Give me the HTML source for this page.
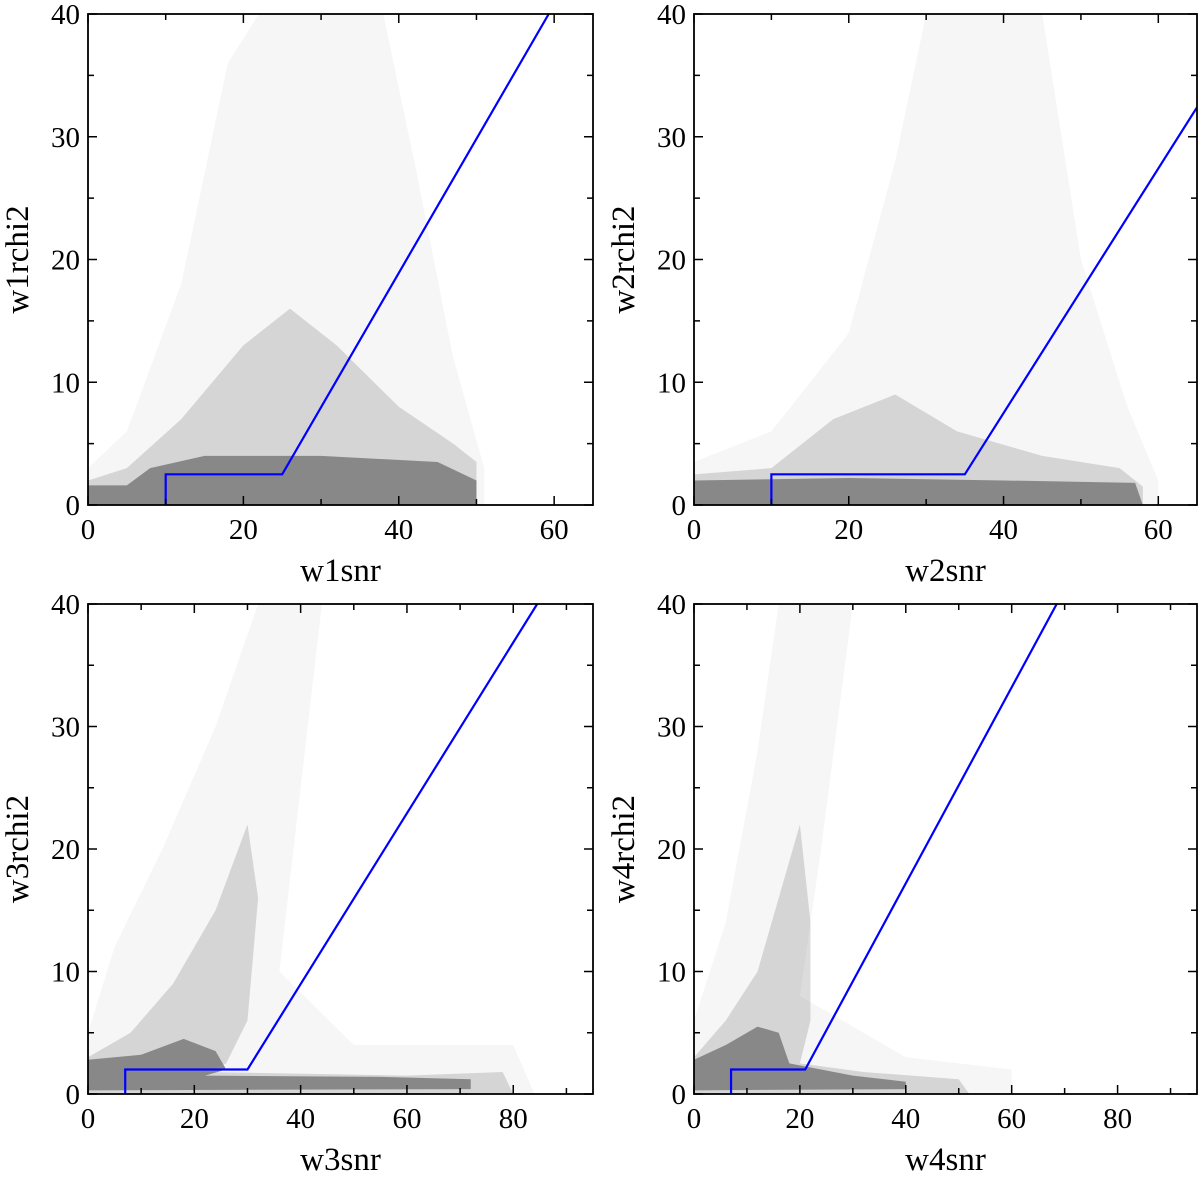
<!DOCTYPE html>
<html><head><meta charset="utf-8"><style>
html,body{margin:0;padding:0;background:#fff;}
svg text{font-family:"Liberation Serif",serif;fill:#000;}
</style></head><body>
<svg id="fig" width="1200" height="1180" viewBox="0 0 1200 1180"></svg>
<script>
// Panel axis settings
const panelNames=["w1","w2","w3","w4"];
const xMaxes=[65,65,95,95];
const xTickLabels=[[0,20,40,60],[0,20,40,60],[0,20,40,60,80],[0,20,40,60,80]];
const yTickLabels=[0,10,20,30,40];
// Blue cut lines [snr, rchi2]
const cutW1=[[10,0],[10,2.5],[25,2.5],[59.3,40]];
const cutW2=[[10,0],[10,2.5],[35,2.5],[65,32.4]];
const cutW3=[[7,0],[7,2],[30,2],[84.5,40]];
const cutW4=[[7,0],[7,2],[21,2],[68.5,40]];
const cuts=[cutW1,cutW2,cutW3,cutW4];
// Point-cloud density envelopes [snr, rchi2] (diffuse, medium, core)
const diffuseW1=[[0,0],[0,3],[5,6],[12,18],[18,36],[22,40],[38,40],[42,28],[47,12],[51,3],[51,0]];
const mediumW1=[[0,0],[0,2],[5,3],[12,7],[20,13],[26,16],[32,13],[40,8],[47,5],[50,3.5],[50,0]];
const coreW1=[[0,0],[0,1.6],[5,1.6],[8,3],[15,4],[30,4],[45,3.5],[50,2],[50,0]];
const diffuseW2=[[0,0],[0,3.5],[10,6],[20,14],[26,28],[30,40],[45,40],[50,20],[56,8],[60,2],[60,0]];
const mediumW2=[[0,0],[0,2.5],[10,3],[18,7],[26,9],[34,6],[45,4],[55,3],[58,1.5],[58,0]];
const coreW2=[[0,0],[0,2],[20,2.2],[40,2],[57,1.8],[58,0]];
const diffuseW3=[[0,0],[0,5],[5,12],[14,20],[24,30],[32,40],[44,40],[40,25],[36,10],[50,4],[80,4],[84,0]];
const mediumW3=[[0,0],[0,3],[8,5],[16,9],[24,15],[30,22],[32,16],[30,6],[26,2.5],[22,1.8],[60,1.5],[78,1.8],[80,0]];
const coreW3=[[0,0],[0,2.8],[10,3.2],[18,4.5],[24,3.5],[26,2],[22,1.5],[55,1.4],[72,1.2],[72,0.4],[0,0.3]];
const diffuseW4=[[0,0],[0,6],[6,14],[12,28],[16,40],[30,40],[24,20],[20,8],[40,3],[60,2],[60,0]];
const mediumW4=[[0,0],[0,3],[6,6],[12,10],[16,16],[20,22],[22,14],[22,6],[20,2.5],[32,1.8],[50,1.2],[52,0]];
const coreW4=[[0,0],[0,2.8],[6,4],[12,5.5],[16,5],[18,2.5],[30,1.5],[40,1],[40,0.4],[0,0.3]];
const clouds=[[diffuseW1,mediumW1,coreW1],[diffuseW2,mediumW2,coreW2],[diffuseW3,mediumW3,coreW3],[diffuseW4,mediumW4,coreW4]];
const cloudOpacity=[0.07,0.28,0.9];

const NS="http://www.w3.org/2000/svg";
const svg=document.getElementById('fig');
const boxes=[[88,14,593,505],[694,14,1197,505],[88,604,593,1094],[694,604,1197,1094]];
function mk(tag,attrs,parent){const e=document.createElementNS(NS,tag);for(const k in attrs)e.setAttribute(k,attrs[k]);(parent||svg).appendChild(e);return e;}
boxes.forEach((b,p)=>{
  const [x0,y0,x1,y1]=b;
  const g=mk('g',{});
  
  
  const xs=v=>x0+(x1-x0)*v/xMaxes[p];
  const ys=v=>y1-(y1-y0)*v/40;
  const clipId='c'+p;
  const cp=mk('clipPath',{id:clipId},g);mk('rect',{x:x0,y:y0,width:x1-x0,height:y1-y0},cp);
  const cg=mk('g',{'clip-path':'url(#'+clipId+')'},g);
  clouds[p].forEach((poly,i)=>{
    const pg=mk('polygon',{points:poly.map(q=>xs(q[0])+','+ys(q[1])).join(' '),fill:'#808080','fill-opacity':cloudOpacity[i],stroke:'none'},cg);
    
    
  });
  const ln=mk('polyline',{points:cuts[p].map(q=>xs(q[0])+','+ys(q[1])).join(' '),fill:'none',stroke:'#0000ff','stroke-width':2.2},cg);
  
  
  let t='';
  for(let v=0;v<=xMaxes[p];v+=10){const L=(v%20===0)?9:6;const X=xs(v);t+=`M${X},${y1}v${-L}M${X},${y0}v${L}`;}
  for(let v=0;v<=40;v+=5){const L=(v%10===0)?9:6;const Y=ys(v);t+=`M${x0},${Y}h${L}M${x1},${Y}h${-L}`;}
  mk('path',{d:t,stroke:'#000','stroke-width':1.5,fill:'none'},g);
  const fr=mk('rect',{x:x0,y:y0,width:x1-x0,height:y1-y0,fill:'none',stroke:'#000','stroke-width':1.8},g);
  
  
  xTickLabels[p].forEach(v=>{const tx=mk('text',{x:xs(v),y:y1+34,'text-anchor':'middle','font-size':29},g);tx.textContent=v;
    
    });
  yTickLabels.forEach(v=>{const tx=mk('text',{x:x0-8,y:ys(v)+10,'text-anchor':'end','font-size':29},g);tx.textContent=v;
    
    });
  const xt=mk('text',{x:(x0+x1)/2,y:y1+76,'text-anchor':'middle','font-size':33},g);xt.textContent=panelNames[p]+'snr';
  
  
  const yc=(y0+y1)/2;
  const yt=mk('text',{x:x0-60,y:yc,'text-anchor':'middle','font-size':33,transform:`rotate(-90 ${x0-60} ${yc})`},g);yt.textContent=panelNames[p]+'rchi2';
  
  
});
</script>
</body></html>
